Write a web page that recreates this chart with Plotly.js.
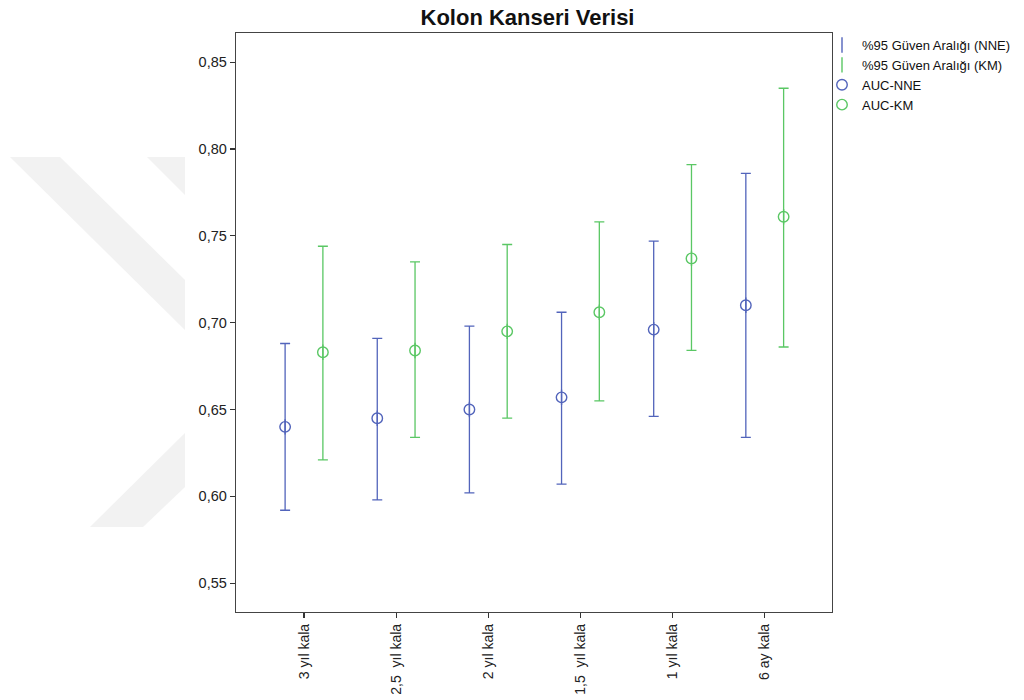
<!DOCTYPE html>
<html>
<head>
<meta charset="utf-8">
<script src="https://cdn.plot.ly/plotly-3.0.1.min.js"></script>
<style>
  html, body { margin: 0; padding: 0; background: #ffffff; }
  #chart { width: 1024px; height: 700px; }
</style>
</head>
<body>
<div id="chart"></div>
<script>
// Time points before the event
const categories = ['3 yıl kala', '2,5\u00a0 yıl kala', '2 yıl kala', '1,5\u00a0 yıl kala', '1 yıl kala', '6 ay kala'];

// AUC estimates and 95% confidence limits, NNE model
const aucNNE    = [0.640, 0.645, 0.650, 0.657, 0.696, 0.710];
const ciNNELow  = [0.592, 0.598, 0.602, 0.607, 0.646, 0.634];
const ciNNEHigh = [0.688, 0.691, 0.698, 0.706, 0.747, 0.786];

// AUC estimates and 95% confidence limits, Kaplan-Meier
const aucKM    = [0.683, 0.684, 0.695, 0.706, 0.737, 0.761];
const ciKMLow  = [0.621, 0.634, 0.645, 0.655, 0.684, 0.686];
const ciKMHigh = [0.744, 0.735, 0.745, 0.758, 0.791, 0.835];

const blue = '#5264bb';
const green = '#5ac764';
const FONT = 'Liberation Sans, Arial, sans-serif';

// side-by-side placement within each category slot
const shift = 0.205;
const idx = categories.map((_, i) => i);
const xNNE = idx.map(i => i - shift);
const xKM = idx.map(i => i + shift);

function ciTrace(name, x, mid, lo, hi, color) {
  return {
    type: 'scatter', mode: 'markers', name: name, x: x, y: mid,
    marker: { symbol: 'line-ns-open', size: 11, color: color, line: { color: color, width: 1.4 } },
    error_y: {
      type: 'data', symmetric: false,
      array: hi.map((h, i) => h - mid[i]),
      arrayminus: lo.map((l, i) => mid[i] - l),
      color: color, thickness: 1.3, width: 5
    },
    hoverinfo: 'skip'
  };
}

function aucTrace(name, x, y, color) {
  return {
    type: 'scatter', mode: 'markers', name: name, x: x, y: y,
    marker: { symbol: 'circle-open', size: 10.5, color: color, line: { color: color, width: 1.4 } }
  };
}

const data = [
  ciTrace('%95 Güven Aralığı (NNE)', xNNE, aucNNE, ciNNELow, ciNNEHigh, blue),
  ciTrace('%95 Güven Aralığı (KM)', xKM, aucKM, ciKMLow, ciKMHigh, green),
  aucTrace('AUC-NNE', xNNE, aucNNE, blue),
  aucTrace('AUC-KM', xKM, aucKM, green)
];

// faint diagonal emblem in the left margin (pixel positions -> paper units)
const L = 236, T = 33, W = 596, H = 579;
const px = x => (x - L) / W;
const py = y => (T + H - y) / H;
function poly(pts) {
  return {
    type: 'path', xref: 'paper', yref: 'paper', layer: 'below',
    path: 'M ' + pts.map(p => px(p[0]).toFixed(4) + ',' + py(p[1]).toFixed(4)).join(' L ') + ' Z',
    fillcolor: '#f2f2f2', line: { width: 0 }
  };
}
const emblem = [
  poly([[10, 157], [60, 157], [185, 280], [185, 330]]),
  poly([[147, 157], [185, 157], [185, 195]]),
  poly([[90, 527], [143, 527], [185, 487], [185, 433]])
];

const layout = {
  width: 1024, height: 700,
  margin: { l: L, r: 1024 - L - W, t: T, b: 700 - T - H, pad: 0, autoexpand: false },
  paper_bgcolor: 'rgba(0,0,0,0)',
  plot_bgcolor: '#ffffff',
  separators: ', ',
  font: { family: FONT, size: 14, color: '#222222' },
  title: {
    text: 'Kolon Kanseri Verisi',
    font: { family: FONT, size: 22, color: '#111111', weight: 'bold' },
    x: px(527.5), xref: 'paper', xanchor: 'center', y: 0.976, yanchor: 'middle'
  },
  showlegend: true,
  legend: {
    x: px(822), xanchor: 'left', y: py(30), yanchor: 'top',
    bgcolor: 'rgba(0,0,0,0)', borderwidth: 0,
    font: { family: FONT, size: 13, color: '#111111' },
    itemsizing: 'trace', tracegroupgap: 0
  },
  xaxis: {
    range: [-0.738, 5.73],
    tickmode: 'array', tickvals: idx, ticktext: categories,
    tickangle: -90,
    ticks: 'outside', ticklen: 5, tickwidth: 1.3, tickcolor: '#333333',
    showgrid: false, zeroline: false,
    showline: true, linecolor: '#444444', linewidth: 1.3, mirror: true,
    tickfont: { family: FONT, size: 14, color: '#222222' }
  },
  yaxis: {
    range: [0.5334, 0.8668],
    tickmode: 'array', tickvals: [0.55, 0.60, 0.65, 0.70, 0.75, 0.80, 0.85],
    tickformat: '.2f',
    ticks: 'outside', ticklen: 5, tickwidth: 1.3, tickcolor: '#333333',
    showgrid: false, zeroline: false,
    showline: true, linecolor: '#444444', linewidth: 1.3, mirror: true,
    tickfont: { family: FONT, size: 14.5, color: '#222222' }
  },
  shapes: emblem
};

Plotly.newPlot('chart', data, layout, { displayModeBar: false, staticPlot: true });
</script>
</body>
</html>
